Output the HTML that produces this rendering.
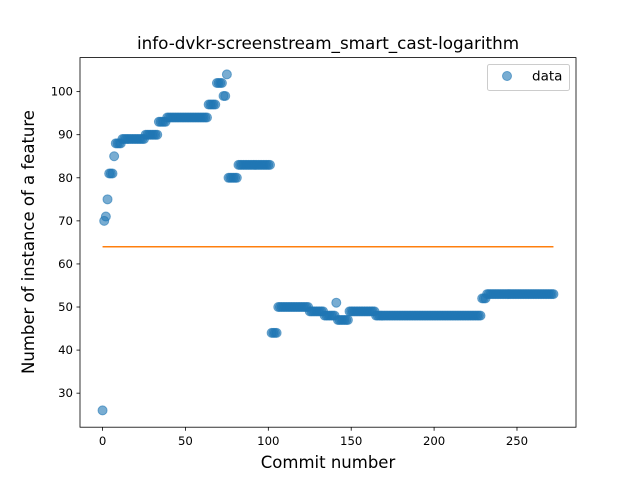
<!DOCTYPE html>
<html><head><meta charset="utf-8"><style>
body{margin:0;background:#fff}
svg text{font-family:"DejaVu Sans","Liberation Sans",sans-serif;fill:#000}
</style></head><body>
<svg id="chart" width="640" height="480">
<rect width="640" height="480" fill="#fff"/>
<text x="328" y="49" font-size="16.8" text-anchor="middle">info-dvkr-screenstream_smart_cast-logarithm</text>
<g id="marks"></g>
<g id="axes"></g>
<text x="328" y="468" font-size="16.5" text-anchor="middle">Commit number</text>
<text transform="translate(34,242) rotate(-90)" font-size="16.5" text-anchor="middle">Number of instance of a feature</text>
<g>
<rect x="487.5" y="64.5" width="82" height="26" fill="#fff" stroke="#ccc" rx="2"/>
<circle cx="507" cy="76" r="4.5" fill="#1f77b4" fill-opacity="0.6" stroke="#1f77b4" stroke-opacity="0.6"/>
<text x="532" y="80.5" font-size="13.5">data</text>
</g>
</svg>
<script>
const runValues=[26,70,71,75,81,85,88,89,90,93,94,97,102,99,104,80,83,44,50,49,48,51,47,49,48,52,53];
const runLengths=[1,1,1,1,3,1,4,14,8,5,25,5,4,2,1,6,20,4,19,9,7,1,7,16,64,3,41];
const meanValue=64;
const xTicks=[0,50,100,150,200,250];
const yTicks=[30,40,50,60,70,80,90,100];
const L=80,R=576,T=57.6,B=427.2;
const xMin=-13.6,xMax=285.6,yMin=22.1,yMax=107.9;
function xs(v){return L+(v-xMin)/(xMax-xMin)*(R-L);}
function ys(v){return B-(v-yMin)/(yMax-yMin)*(B-T);}
const NS='http://www.w3.org/2000/svg';
const values=[];
runValues.forEach((v,k)=>{for(let j=0;j<runLengths[k];j++)values.push(v);});
const marks=document.getElementById('marks');
values.forEach((v,i)=>{
  const c=document.createElementNS(NS,'circle');
  c.setAttribute('cx',xs(i));c.setAttribute('cy',ys(v));c.setAttribute('r',4.5);
  c.setAttribute('fill','#1f77b4');c.setAttribute('fill-opacity','0.6');
  c.setAttribute('stroke','#1f77b4');c.setAttribute('stroke-opacity','0.6');
  
  
  marks.appendChild(c);
});
const ln=document.createElementNS(NS,'line');
ln.setAttribute('x1',xs(0));ln.setAttribute('x2',xs(values.length-1));
ln.setAttribute('y1',ys(meanValue));ln.setAttribute('y2',ys(meanValue));
ln.setAttribute('stroke','#ff7f0e');ln.setAttribute('stroke-width','1.5');


marks.appendChild(ln);
const ax=document.getElementById('axes');
const fr=document.createElementNS(NS,'rect');
fr.setAttribute('x',L);fr.setAttribute('y',T);fr.setAttribute('width',R-L);fr.setAttribute('height',B-T);
fr.setAttribute('fill','none');fr.setAttribute('stroke','#000');fr.setAttribute('stroke-width','0.8');


ax.appendChild(fr);
xTicks.forEach(t=>{
  const x=xs(t);
  const l=document.createElementNS(NS,'line');
  l.setAttribute('x1',x);l.setAttribute('x2',x);l.setAttribute('y1',B);l.setAttribute('y2',B+3.5);
  l.setAttribute('stroke','#000');l.setAttribute('stroke-width','0.8');
  
  
  ax.appendChild(l);
  const tx=document.createElementNS(NS,'text');
  tx.setAttribute('x',x);tx.setAttribute('y',B+18);tx.setAttribute('font-size','11.7');tx.setAttribute('text-anchor','middle');
  tx.textContent=t;
  
  
  ax.appendChild(tx);
});
yTicks.forEach(t=>{
  const y=ys(t);
  const l=document.createElementNS(NS,'line');
  l.setAttribute('x1',L-3.5);l.setAttribute('x2',L);l.setAttribute('y1',y);l.setAttribute('y2',y);
  l.setAttribute('stroke','#000');l.setAttribute('stroke-width','0.8');
  
  
  ax.appendChild(l);
  const tx=document.createElementNS(NS,'text');
  tx.setAttribute('x',L-7);tx.setAttribute('y',y+4);tx.setAttribute('font-size','11.7');tx.setAttribute('text-anchor','end');
  tx.textContent=t;
  
  
  ax.appendChild(tx);
});
</script>
</body></html>
